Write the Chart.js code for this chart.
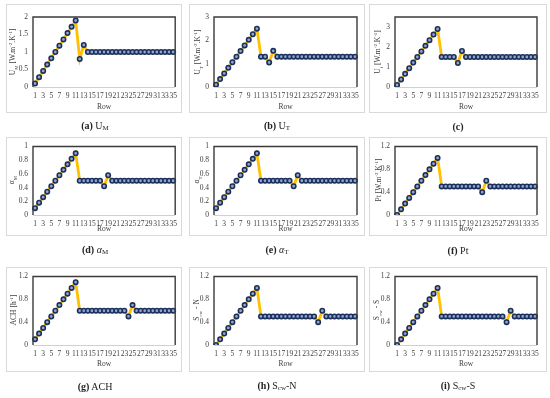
<!DOCTYPE html>
<html>
<head>
<meta charset="utf-8">
<script src="https://cdn.jsdelivr.net/npm/chart.js@4.4.1/dist/chart.umd.min.js"></script>
<style>
  body { margin: 0; background: #fff; width: 550px; height: 398px; position: relative; overflow: hidden; font-family: "Liberation Serif", serif; }
  .box { position: absolute; border: 1px solid #d9d9d9; box-sizing: border-box; }
  .box canvas { position: absolute; left: -1px; top: -1px; }
  .ytitle { position: absolute; white-space: nowrap; font-size: 7.5px; color: #404040; transform: translate(-50%, -50%) rotate(-90deg); line-height: 1; }
  .ytitle sub, .ytitle sup { font-size: 5px; }
  .cap { position: absolute; white-space: nowrap; font-size: 10px; color: #222; transform: translate(-50%, -50%); }
  .cap sub { font-size: 7px; vertical-align: -1px; }
</style>
</head>
<body>
<script>
// Row numbers on the x axis
const rows = ['1','2','3','4','5','6','7','8','9','10','11','12','13','14','15','16','17','18','19','20','21','22','23','24','25','26','27','28','29','30','31','32','33','34','35'];

// series
const umVals = [0.1,0.28,0.46,0.64,0.82,1.0,1.18,1.36,1.54,1.72,1.9,0.8,1.2,1,1,1,1,1,1,1,1,1,1,1,1,1,1,1,1,1,1,1,1,1,1];
const utVals = [0.1,0.34,0.58,0.82,1.06,1.3,1.54,1.78,2.02,2.26,2.5,1.3,1.3,1.05,1.55,1.3,1.3,1.3,1.3,1.3,1.3,1.3,1.3,1.3,1.3,1.3,1.3,1.3,1.3,1.3,1.3,1.3,1.3,1.3,1.3];
const ufVals = [0.1,0.38,0.66,0.94,1.22,1.5,1.78,2.06,2.34,2.62,2.9,1.5,1.5,1.5,1.5,1.2,1.8,1.5,1.5,1.5,1.5,1.5,1.5,1.5,1.5,1.5,1.5,1.5,1.5,1.5,1.5,1.5,1.5,1.5,1.5];
const amVals = [0.1,0.18,0.26,0.34,0.42,0.5,0.58,0.66,0.74,0.82,0.9,0.5,0.5,0.5,0.5,0.5,0.5,0.42,0.58,0.5,0.5,0.5,0.5,0.5,0.5,0.5,0.5,0.5,0.5,0.5,0.5,0.5,0.5,0.5,0.5];
const atVals = [0.1,0.18,0.26,0.34,0.42,0.5,0.58,0.66,0.74,0.82,0.9,0.5,0.5,0.5,0.5,0.5,0.5,0.5,0.5,0.42,0.58,0.5,0.5,0.5,0.5,0.5,0.5,0.5,0.5,0.5,0.5,0.5,0.5,0.5,0.5];
const ptVals = [0,0.1,0.2,0.3,0.4,0.5,0.6,0.7,0.8,0.9,1.0,0.5,0.5,0.5,0.5,0.5,0.5,0.5,0.5,0.5,0.5,0.4,0.6,0.5,0.5,0.5,0.5,0.5,0.5,0.5,0.5,0.5,0.5,0.5,0.5];
const achVals = [0.1,0.2,0.3,0.4,0.5,0.6,0.7,0.8,0.9,1.0,1.1,0.6,0.6,0.6,0.6,0.6,0.6,0.6,0.6,0.6,0.6,0.6,0.6,0.5,0.7,0.6,0.6,0.6,0.6,0.6,0.6,0.6,0.6,0.6,0.6];
const scwNVals = [0,0.1,0.2,0.3,0.4,0.5,0.6,0.7,0.8,0.9,1.0,0.5,0.5,0.5,0.5,0.5,0.5,0.5,0.5,0.5,0.5,0.5,0.5,0.5,0.5,0.4,0.6,0.5,0.5,0.5,0.5,0.5,0.5,0.5,0.5];
const scwSVals = [0,0.1,0.2,0.3,0.4,0.5,0.6,0.7,0.8,0.9,1.0,0.5,0.5,0.5,0.5,0.5,0.5,0.5,0.5,0.5,0.5,0.5,0.5,0.5,0.5,0.5,0.5,0.4,0.6,0.5,0.5,0.5,0.5,0.5,0.5];

// y axis ranges
const yMax  = [2, 3, 3.5, 1, 1, 1.2, 1.2, 1.2, 1.2];
const yStep = [0.5, 0.5, 0.5, 0.2, 0.2, 0.2, 0.2, 0.2, 0.2];

const yTitles = [
  'U<sub>M</sub> [W.m<sup>-2</sup>.K<sup>-1</sup>]',
  'U<sub>T</sub> [W.m<sup>-2</sup>.K<sup>-1</sup>]',
  'U<sub>f</sub> [W.m<sup>-2</sup>.K<sup>-1</sup>]',
  'α<sub>M</sub>',
  'α<sub>T</sub>',
  'Pt [W.m<sup>-2</sup>.K<sup>-1</sup>]',
  'ACH [h<sup>-1</sup>]',
  'S<sub>cw</sub> - N',
  'S<sub>cw</sub> - S'
];
const captions = [
  '<b>(a)</b> U<sub>M</sub>', '<b>(b)</b> U<sub>T</sub>', '<b>(c)</b>',
  '<b>(d)</b> <i>α</i><sub>M</sub>', '<b>(e)</b> <i>α</i><sub>T</sub>', '<b>(f)</b> Pt',
  '<b>(g)</b> ACH', '<b>(h)</b> S<sub>cw</sub>-N', '<b>(i)</b> S<sub>cw</sub>-S'
];
const series = [umVals, utVals, ufVals, amVals, atVals, ptVals, achVals, scwNVals, scwSVals];

// layout of the 3x3 grid (page pixels)
const colBox = [[6, 176], [189, 176], [369, 178]];
const colPlot = [[33, 176], [214, 357], [395, 537]];
const colTitleX = [13, 198, 378];
const colCapX = [95, 277, 458];
const rowBox = [[4, 109], [137, 99], [267, 105]];
const rowPlot = [[17, 87], [145, 215], [275, 345]];
const rowTitlePad = [1, 2, 3];
const rowCapY = [126, 250, 386];

const plotFrame = {
  id: 'plotFrame',
  afterDraw(chart) {
    const {ctx, chartArea: a} = chart;
    ctx.save();
    ctx.lineWidth = 1;
    ctx.strokeStyle = '#d0d0d0';
    ctx.beginPath();
    ctx.moveTo(a.left, a.bottom + 0.5);
    ctx.lineTo(a.right, a.bottom + 0.5);
    ctx.stroke();
    ctx.lineWidth = 1.4;
    ctx.strokeStyle = '#3a3a3a';
    ctx.beginPath();
    ctx.moveTo(a.left, a.bottom);
    ctx.lineTo(a.left, a.top);
    ctx.lineTo(a.right, a.top);
    ctx.lineTo(a.right, a.bottom);
    ctx.stroke();
    ctx.restore();
  }
};

for (let i = 0; i < 9; i++) {
  const c = i % 3, r = Math.floor(i / 3);
  const bx = colBox[c][0], bw = colBox[c][1];
  const by = rowBox[r][0], bh = rowBox[r][1];
  const pl = colPlot[c][0], pr = colPlot[c][1];
  const pt = rowPlot[r][0], pb = rowPlot[r][1];

  const box = document.createElement('div');
  box.className = 'box';
  box.style.left = bx + 'px';
  box.style.top = by + 'px';
  box.style.width = bw + 'px';
  box.style.height = bh + 'px';
  const cv = document.createElement('canvas');
  cv.width = bw; cv.height = bh;
  cv.style.width = bw + 'px'; cv.style.height = bh + 'px';
  box.appendChild(cv);
  document.body.appendChild(box);

  const yt = document.createElement('div');
  yt.className = 'ytitle';
  yt.innerHTML = yTitles[i];
  yt.style.left = colTitleX[c] + 'px';
  yt.style.top = ((pt + pb) / 2) + 'px';
  document.body.appendChild(yt);

  const cap = document.createElement('div');
  cap.className = 'cap';
  cap.innerHTML = captions[i];
  cap.style.left = colCapX[c] + 'px';
  cap.style.top = rowCapY[r] + 'px';
  document.body.appendChild(cap);

  new Chart(cv.getContext('2d'), {
    type: 'line',
    data: {
      labels: rows,
      datasets: [{
        data: series[i],
        borderColor: '#FFC000',
        borderWidth: 2.8,
        pointStyle: 'circle',
        pointRadius: 2.2,
        pointBackgroundColor: '#8fa6cf',
        pointBorderColor: '#1b2f5a',
        pointBorderWidth: 1.6,
        tension: 0
      }]
    },
    options: {
      responsive: false,
      animation: false,
      devicePixelRatio: 1,
      events: [],
      layout: { padding: { left: 0, top: pt - by, right: bx + bw - pr, bottom: 0 } },
      plugins: { legend: { display: false }, tooltip: { enabled: false } },
      scales: {
        x: {
          type: 'category',
          offset: true,
          afterFit: s => { s.height = by + bh - pb; },
          grid: { display: false, drawTicks: false },
          border: { display: false },
          ticks: {
            autoSkip: false, maxRotation: 0, padding: 5,
            color: '#404040',
            font: { family: 'Liberation Serif', size: 7.5 },
            callback: (v, idx) => idx % 2 === 0 ? rows[idx] : ''
          },
          title: {
            display: true, text: 'Row', color: '#404040',
            font: { family: 'Liberation Serif', size: 7.5 },
            padding: { top: 0, bottom: rowTitlePad[r] }
          }
        },
        y: {
          min: 0, max: yMax[i],
          afterFit: s => { s.width = pl - bx; },
          grid: { display: false, drawTicks: false },
          border: { display: false },
          ticks: {
            stepSize: yStep[i], padding: 5,
            color: '#404040',
            font: { family: 'Liberation Serif', size: 7.5 },
            callback: v => String(Math.round(v * 10) / 10)
          }
        }
      }
    },
    plugins: [plotFrame]
  });
}
</script>
</body>
</html>
